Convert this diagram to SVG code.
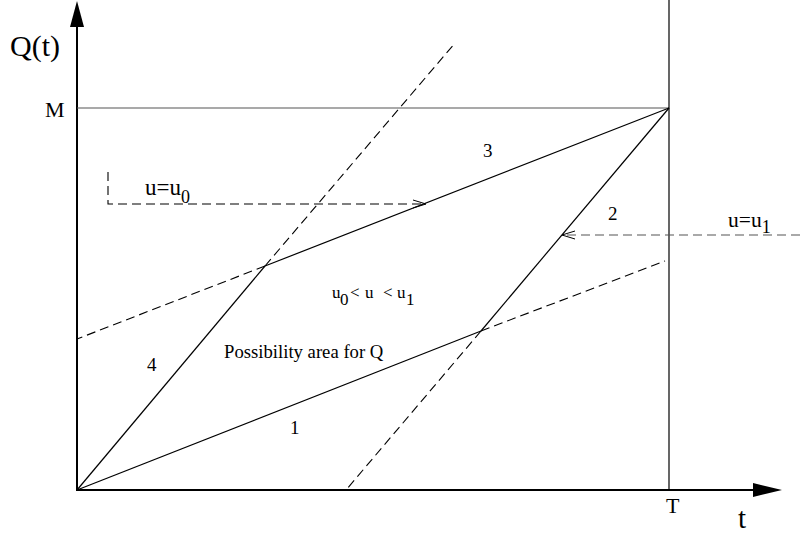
<svg xmlns="http://www.w3.org/2000/svg" width="801" height="537" viewBox="0 0 801 537">
<style>
text{font-family:"Liberation Serif","Times New Roman",serif;fill:#000}
.s{stroke:#000;stroke-width:1.2;fill:none}
.d{stroke:#000;stroke-width:1.1;fill:none;stroke-dasharray:9,5}
.g{stroke:#555;stroke-width:1.2;fill:none}
</style>
<defs>
<marker id="open" markerWidth="14" markerHeight="10" refX="13" refY="5" orient="auto" markerUnits="userSpaceOnUse">
<path d="M0,1 L13,5 L0,9" fill="none" stroke="#000" stroke-width="1"/>
</marker>
</defs>
<rect width="801" height="537" fill="#fff"/>
<g id="axes">
<line x1="77" y1="491" x2="77" y2="24" stroke="#000" stroke-width="2"/>
<polygon points="77,1 70,27 84,27" fill="#000"/>
<line x1="76" y1="490" x2="756" y2="490" stroke="#000" stroke-width="2"/>
<polygon points="782,490 753,483 753,497" fill="#000"/>
<line x1="77" y1="108" x2="669" y2="108" class="g"/>
<line x1="669" y1="0" x2="669" y2="490" class="s"/>
</g>
<g id="connectors">
<line x1="77" y1="490" x2="265" y2="266" class="s"/>
<line x1="265" y1="266" x2="669" y2="108" class="s"/>
<line x1="77" y1="490" x2="481" y2="331" class="s"/>
<line x1="481" y1="331" x2="669" y2="108" class="s"/>
<line x1="265" y1="266" x2="455" y2="43" class="d"/>
<line x1="265" y1="266" x2="77" y2="339" class="d"/>
<line x1="481" y1="331" x2="665" y2="261" class="d"/>
<line x1="481" y1="331" x2="346" y2="490" class="d"/>
<polyline points="108,172 108,204 426,204" class="d" marker-end="url(#open)"/>
<line x1="800" y1="235" x2="562" y2="235" class="d" style="stroke:#555" marker-end="url(#open)"/>
</g>
<g id="labels" font-family="Liberation Serif, Times New Roman, serif">
<text x="10" y="56" font-size="30">Q(t)</text>
<text x="45" y="117" font-size="22">M</text>
<text x="145" y="195" font-size="23">u=u<tspan font-size="18" dy="8">0</tspan></text>
<text x="483" y="157" font-size="19">3</text>
<text x="608" y="220" font-size="19">2</text>
<text x="728" y="227" font-size="21.5">u=u<tspan font-size="18" dy="6">1</tspan></text>
<text y="298" font-size="17"><tspan x="332">u</tspan><tspan x="340" dy="7">0</tspan><tspan x="350" dy="-7">&lt;</tspan><tspan x="365">u</tspan><tspan x="383">&lt;</tspan><tspan x="397">u</tspan><tspan x="406" dy="7">1</tspan></text>
<text x="224" y="358" font-size="18.7">Possibility area for Q</text>
<text x="147" y="371" font-size="19">4</text>
<text x="290" y="434" font-size="19">1</text>
<text x="666" y="513" font-size="22">T</text>
<text x="738" y="528" font-size="29">t</text>
</g>
</svg>
